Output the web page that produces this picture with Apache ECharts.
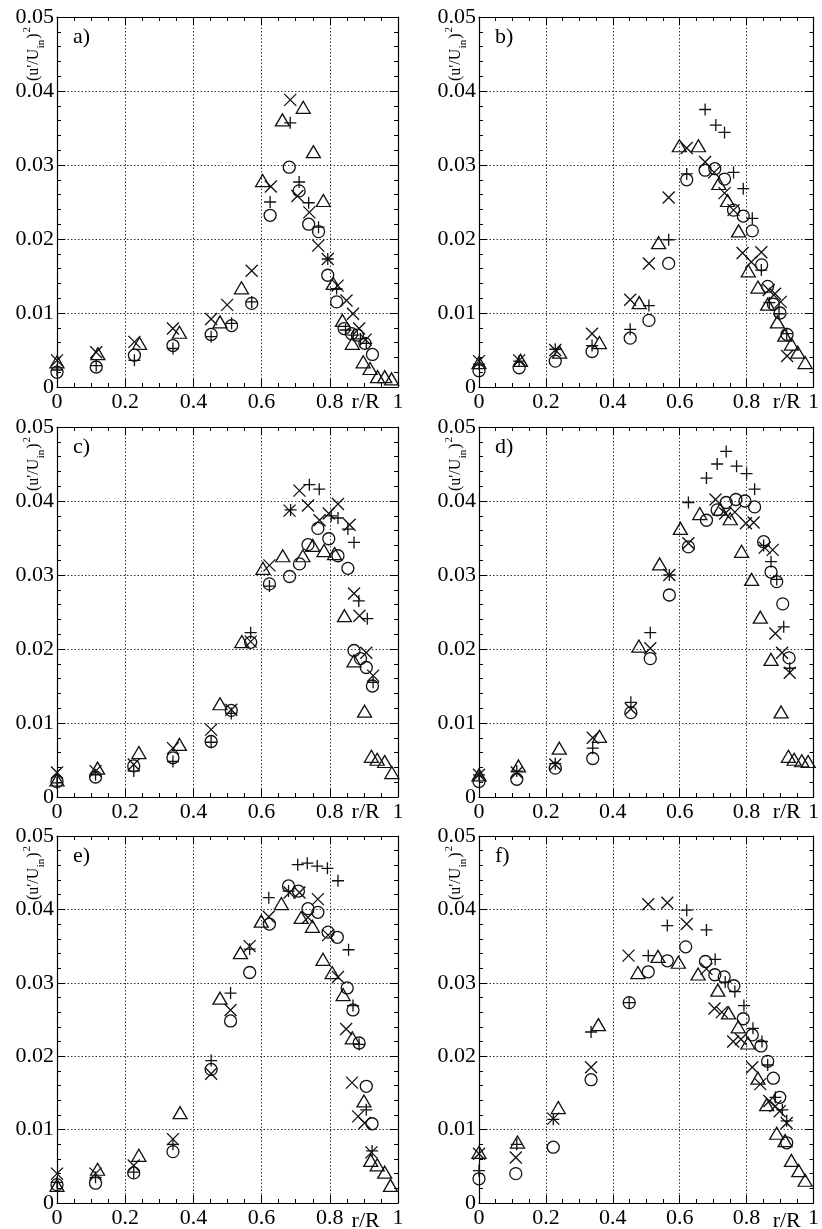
<!DOCTYPE html>
<html>
<head>
<meta charset="utf-8">
<script src="https://cdn.jsdelivr.net/npm/echarts@6/dist/echarts.min.js"></script>
<style>
  html, body { margin: 0; padding: 0; background: #fff; }
  #chart { width: 822px; height: 1229px; }
</style>
</head>
<body>
<div id="chart"></div>
<script>
// Radial profiles of (u'/U_in)^2 against r/R, four measurement sets per panel.

const xTicks = [0, 0.2, 0.4, 0.6, 0.8, 1];
const yTicks = [0, 0.01, 0.02, 0.03, 0.04, 0.05];
const panelNames = ['a)', 'b)', 'c)', 'd)', 'e)', 'f)'];

// ---- panel a ----
const aCircle = [[0,0.0020],[0.115,0.0027],[0.227,0.0043],[0.34,0.0056],[0.452,0.0071],[0.512,0.0083],[0.571,0.0113],[0.625,0.0232],[0.681,0.0297],[0.71,0.0265],[0.738,0.0220],[0.767,0.0210],[0.794,0.0151],[0.82,0.0115],[0.842,0.0079],[0.864,0.0072],[0.881,0.0070],[0.903,0.0059],[0.925,0.0044]];
const aPlus = [[0,0.0023],[0.115,0.0029],[0.227,0.0036],[0.34,0.0052],[0.452,0.0068],[0.512,0.0086],[0.571,0.0115],[0.625,0.0250],[0.684,0.0357],[0.71,0.0277],[0.738,0.0249],[0.767,0.0216],[0.794,0.0173],[0.82,0.0133],[0.846,0.0077],[0.869,0.0070],[0.89,0.0065],[0.907,0.0059]];
const aCross = [[0,0.0036],[0.115,0.0047],[0.227,0.0061],[0.34,0.0079],[0.452,0.0092],[0.499,0.0111],[0.571,0.0157],[0.627,0.0271],[0.684,0.0388],[0.705,0.0258],[0.74,0.0236],[0.766,0.0191],[0.794,0.0173],[0.823,0.0137],[0.849,0.0117],[0.868,0.0099],[0.886,0.0079],[0.905,0.0064]];
const aTri = [[0,0.0034],[0.12,0.0045],[0.242,0.0059],[0.359,0.0074],[0.478,0.0088],[0.541,0.0134],[0.603,0.0279],[0.661,0.0361],[0.722,0.0378],[0.752,0.0318],[0.781,0.0252],[0.81,0.0140],[0.837,0.0090],[0.866,0.0059],[0.898,0.0034],[0.918,0.0025],[0.94,0.0014],[0.961,0.0014],[0.981,0.0011]];

// ---- panel b ----
const bCircle = [[0,0.0022],[0.12,0.0026],[0.228,0.0035],[0.338,0.0048],[0.452,0.0066],[0.508,0.0090],[0.567,0.0167],[0.621,0.0280],[0.676,0.0293],[0.705,0.0295],[0.734,0.0281],[0.761,0.0239],[0.79,0.0231],[0.817,0.0211],[0.845,0.0165],[0.863,0.0136],[0.88,0.0112],[0.9,0.0100],[0.921,0.0071]];
const bPlus = [[0,0.0031],[0.12,0.0035],[0.228,0.0051],[0.338,0.0056],[0.452,0.0078],[0.508,0.0110],[0.567,0.0199],[0.621,0.0288],[0.676,0.0375],[0.708,0.0354],[0.734,0.0344],[0.761,0.0290],[0.79,0.0268],[0.817,0.0228],[0.844,0.0158],[0.868,0.0114],[0.897,0.0099],[0.92,0.0072]];
const bCross = [[0,0.0035],[0.12,0.0036],[0.228,0.0050],[0.338,0.0072],[0.452,0.0118],[0.508,0.0167],[0.567,0.0256],[0.621,0.0323],[0.676,0.0304],[0.703,0.0290],[0.734,0.0262],[0.761,0.0239],[0.788,0.0181],[0.814,0.0169],[0.844,0.0182],[0.866,0.0131],[0.885,0.0126],[0.902,0.0115],[0.921,0.0042]];
const bTri = [[0,0.0033],[0.124,0.0036],[0.241,0.0047],[0.36,0.0060],[0.479,0.0114],[0.537,0.0195],[0.599,0.0326],[0.656,0.0326],[0.717,0.0275],[0.743,0.0252],[0.776,0.0211],[0.805,0.0157],[0.834,0.0135],[0.863,0.0112],[0.892,0.0088],[0.914,0.0070],[0.934,0.0058],[0.953,0.0047],[0.975,0.0033]];

// ---- panel c ----
const cCircle = [[0,0.0021],[0.113,0.0027],[0.225,0.0042],[0.34,0.0053],[0.452,0.0075],[0.511,0.0117],[0.568,0.0209],[0.623,0.0288],[0.682,0.0298],[0.711,0.0315],[0.736,0.0341],[0.765,0.0363],[0.797,0.0349],[0.824,0.0326],[0.853,0.0309],[0.871,0.0198],[0.89,0.0187],[0.907,0.0175],[0.925,0.0150]];
const cPlus = [[0,0.0019],[0.113,0.0030],[0.225,0.0035],[0.34,0.0048],[0.452,0.0074],[0.511,0.0113],[0.568,0.0222],[0.623,0.0285],[0.685,0.0388],[0.74,0.0422],[0.769,0.0416],[0.804,0.0380],[0.824,0.0377],[0.853,0.0362],[0.871,0.0344],[0.885,0.0265],[0.91,0.0241],[0.927,0.0155]];
const cCross = [[0,0.0033],[0.113,0.0035],[0.225,0.0044],[0.34,0.0066],[0.452,0.0091],[0.511,0.0118],[0.568,0.0210],[0.623,0.0313],[0.682,0.0387],[0.711,0.0414],[0.736,0.0394],[0.77,0.0374],[0.797,0.0383],[0.824,0.0396],[0.858,0.0368],[0.871,0.0275],[0.887,0.0245],[0.907,0.0195],[0.927,0.0164]];
const cTri = [[0,0.0023],[0.119,0.0039],[0.24,0.0060],[0.359,0.0071],[0.478,0.0126],[0.542,0.0210],[0.604,0.0309],[0.662,0.0326],[0.721,0.0326],[0.75,0.0340],[0.783,0.0333],[0.814,0.0329],[0.843,0.0245],[0.871,0.0184],[0.902,0.0116],[0.922,0.0055],[0.939,0.0051],[0.961,0.0048],[0.982,0.0033]];

// ---- panel d ----
const dCircle = [[0,0.0021],[0.113,0.0024],[0.228,0.0039],[0.34,0.0052],[0.454,0.0114],[0.512,0.0187],[0.569,0.0273],[0.626,0.0338],[0.68,0.0374],[0.712,0.0388],[0.739,0.0398],[0.768,0.0402],[0.795,0.0400],[0.824,0.0392],[0.851,0.0345],[0.873,0.0304],[0.89,0.0291],[0.908,0.0261],[0.927,0.0188]];
const dPlus = [[0,0.0030],[0.113,0.0035],[0.228,0.0045],[0.34,0.0066],[0.454,0.0128],[0.512,0.0222],[0.569,0.0300],[0.626,0.0398],[0.68,0.0431],[0.712,0.0450],[0.739,0.0467],[0.77,0.0447],[0.8,0.0437],[0.824,0.0416],[0.851,0.0340],[0.873,0.0318],[0.89,0.0294],[0.911,0.0230],[0.929,0.0174]];
const dCross = [[0,0.0030],[0.113,0.0033],[0.228,0.0044],[0.34,0.0080],[0.454,0.0119],[0.512,0.0201],[0.569,0.0300],[0.626,0.0343],[0.707,0.0402],[0.736,0.0383],[0.765,0.0385],[0.798,0.0370],[0.821,0.0371],[0.854,0.0337],[0.878,0.0334],[0.886,0.0221],[0.906,0.0195],[0.929,0.0168]];
const dTri = [[0,0.0030],[0.118,0.0042],[0.24,0.0066],[0.36,0.0082],[0.478,0.0204],[0.54,0.0315],[0.602,0.0363],[0.66,0.0383],[0.721,0.0389],[0.751,0.0376],[0.785,0.0332],[0.815,0.0294],[0.841,0.0243],[0.873,0.0186],[0.903,0.0115],[0.925,0.0055],[0.942,0.0051],[0.965,0.0049],[0.984,0.0048]];

// ---- panel e ----
const eCircle = [[0,0.0025],[0.113,0.0027],[0.225,0.0041],[0.34,0.0070],[0.452,0.0182],[0.509,0.0248],[0.565,0.0314],[0.623,0.0380],[0.679,0.0432],[0.708,0.0425],[0.736,0.0401],[0.765,0.0396],[0.795,0.0369],[0.822,0.0362],[0.851,0.0293],[0.868,0.0263],[0.886,0.0218],[0.907,0.0159],[0.924,0.0108]];
const ePlus = [[0,0.0028],[0.113,0.0035],[0.225,0.0042],[0.34,0.0080],[0.452,0.0194],[0.509,0.0286],[0.565,0.0346],[0.621,0.0416],[0.679,0.0425],[0.706,0.0461],[0.734,0.0463],[0.763,0.0459],[0.793,0.0456],[0.824,0.0439],[0.855,0.0345],[0.868,0.0269],[0.886,0.0216],[0.907,0.0127],[0.924,0.0071]];
const eCross = [[0,0.0040],[0.113,0.0040],[0.225,0.0051],[0.34,0.0087],[0.452,0.0176],[0.509,0.0263],[0.565,0.0350],[0.621,0.0390],[0.682,0.0423],[0.711,0.0423],[0.736,0.0389],[0.765,0.0414],[0.795,0.0365],[0.824,0.0308],[0.848,0.0237],[0.865,0.0164],[0.883,0.0118],[0.902,0.0109],[0.922,0.0069]];
const eTri = [[0,0.0024],[0.119,0.0046],[0.24,0.0065],[0.361,0.0123],[0.478,0.0279],[0.538,0.0341],[0.599,0.0384],[0.658,0.0408],[0.716,0.0389],[0.749,0.0377],[0.78,0.0332],[0.807,0.0314],[0.839,0.0284],[0.866,0.0225],[0.9,0.0139],[0.92,0.0058],[0.939,0.0052],[0.961,0.0042],[0.978,0.0024]];

// ---- panel f ----
const fCircle = [[0,0.0033],[0.11,0.0040],[0.222,0.0076],[0.335,0.0168],[0.449,0.0273],[0.506,0.0315],[0.563,0.0330],[0.618,0.0349],[0.677,0.0329],[0.705,0.0311],[0.733,0.0308],[0.762,0.0296],[0.79,0.0251],[0.817,0.0229],[0.843,0.0214],[0.863,0.0193],[0.88,0.0170],[0.899,0.0144],[0.92,0.0082]];
const fPlus = [[0,0.0044],[0.113,0.0080],[0.222,0.0114],[0.335,0.0233],[0.449,0.0273],[0.506,0.0337],[0.563,0.0378],[0.621,0.0399],[0.68,0.0372],[0.706,0.0332],[0.736,0.0301],[0.765,0.0288],[0.792,0.0269],[0.819,0.0238],[0.846,0.0220],[0.863,0.0188],[0.886,0.0144],[0.907,0.0127],[0.92,0.0112]];
const fCross = [[0,0.0067],[0.11,0.0062],[0.222,0.0115],[0.335,0.0185],[0.447,0.0337],[0.506,0.0407],[0.563,0.0409],[0.621,0.0380],[0.68,0.0319],[0.704,0.0265],[0.726,0.0260],[0.76,0.0220],[0.783,0.0223],[0.817,0.0185],[0.841,0.0162],[0.868,0.0139],[0.886,0.0132],[0.899,0.0125],[0.92,0.0109]];
const fTri = [[0,0.0069],[0.115,0.0083],[0.237,0.0130],[0.357,0.0243],[0.475,0.0314],[0.535,0.0336],[0.596,0.0328],[0.655,0.0312],[0.714,0.0290],[0.746,0.0259],[0.775,0.0240],[0.804,0.0218],[0.834,0.0170],[0.86,0.0134],[0.89,0.0095],[0.915,0.0085],[0.934,0.0058],[0.956,0.0044],[0.975,0.0031]];

const panelData = [
  [aCircle, aPlus, aCross, aTri],
  [bCircle, bPlus, bCross, bTri],
  [cCircle, cPlus, cCross, cTri],
  [dCircle, dPlus, dCross, dTri],
  [eCircle, ePlus, eCross, eTri],
  [fCircle, fPlus, fCross, fTri]
];

// ---- layout ----
const FONT = 'Liberation Serif';
const INK = '#111';
const COLS = [{ left: 57, width: 341 }, { left: 479, width: 340 }];
const ROWS = [17, 427, 836];
const PH = 370;

const symbols = [
  { symbol: 'circle', size: 12 },
  { symbol: 'path://M0,6H12M6,0V12', size: 12 },
  { symbol: 'path://M0,0L12,12M12,0L0,12', size: 12 },
  { symbol: 'triangle', size: [14, 12] }
];

const fmtX = v => String(Math.round(v * 10) / 10);
const fmtY = v => (Math.abs(v) < 1e-9 ? '0' : (Math.round(v * 100) / 100).toFixed(2));

// text width helper for composing the rotated axis title
const measureCtx = document.createElement('canvas').getContext('2d');
function textWidth(str, size) {
  measureCtx.font = size + 'px "' + FONT + '"';
  return measureCtx.measureText(str).width;
}

// y-axis title built from pieces inside a rotated group (reads bottom to top)
function yTitle(cx, baseY) {
  const MAIN = 16, SMALL = 11;
  const parts = [
    { t: "(u'/U", size: MAIN, dy: 0, gap: 0.5 },
    { t: 'in', size: SMALL, dy: 7, gap: 1 },
    { t: ')', size: MAIN, dy: 0, gap: 1 },
    { t: '2', size: SMALL, dy: -7, gap: 0 }
  ];
  let pos = 0;
  const children = parts.map(p => {
    const el = {
      type: 'text', x: pos, y: p.dy, silent: true,
      style: { text: p.t, fill: '#000', font: p.size + 'px "' + FONT + '"', align: 'left', verticalAlign: 'middle' }
    };
    pos += textWidth(p.t, p.size) + p.gap;
    return el;
  });
  return { type: 'group', x: cx, y: baseY, rotation: Math.PI / 2, silent: true, children: children };
}

const grids = [], xAxes = [], yAxes = [], series = [], graphics = [];

panelData.forEach((sets, i) => {
  const col = COLS[i % 2];
  const top = ROWS[Math.floor(i / 2)];
  grids.push({ left: col.left, top: top, width: col.width, height: PH, show: false });

  const line = { show: true, onZero: false, lineStyle: { color: '#000', width: 1.2 } };
  const tick = { show: true, inside: true, length: 8, lineStyle: { color: '#000', width: 1 } };
  const labelStyle = { color: '#000', fontFamily: FONT, fontSize: 22 };

  xAxes.push({
    gridIndex: i, type: 'value', position: 'bottom', min: xTicks[0], max: xTicks[xTicks.length - 1], interval: 0.2,
    axisLine: line, axisTick: tick,
    minorTick: { show: true, splitNumber: 4, length: 4, lineStyle: { color: '#000', width: 1 } },
    splitLine: { show: true, lineStyle: { color: '#333', width: 1, type: [1.5, 2] } },
    axisLabel: Object.assign({ margin: 4, formatter: fmtX, showMinLabel: true, showMaxLabel: true }, labelStyle)
  });
  xAxes.push({
    gridIndex: i, type: 'value', position: 'top', min: xTicks[0], max: xTicks[xTicks.length - 1], interval: 0.2,
    axisLine: line, axisTick: tick,
    minorTick: { show: true, splitNumber: 4, length: 4, lineStyle: { color: '#000', width: 1 } },
    splitLine: { show: false }, axisLabel: { show: false }
  });
  yAxes.push({
    gridIndex: i, type: 'value', position: 'left', min: yTicks[0], max: yTicks[yTicks.length - 1], interval: 0.01,
    axisLine: line, axisTick: tick,
    minorTick: { show: true, splitNumber: 5, length: 4, lineStyle: { color: '#000', width: 1 } },
    splitLine: { show: true, lineStyle: { color: '#333', width: 1, type: [1.5, 2] } },
    axisLabel: Object.assign({ margin: 3, formatter: fmtY, showMinLabel: true, showMaxLabel: true }, labelStyle)
  });
  yAxes.push({
    gridIndex: i, type: 'value', position: 'right', min: yTicks[0], max: yTicks[yTicks.length - 1], interval: 0.01,
    axisLine: line, axisTick: tick,
    minorTick: { show: true, splitNumber: 5, length: 4, lineStyle: { color: '#000', width: 1 } },
    splitLine: { show: false }, axisLabel: { show: false }
  });

  sets.forEach((data, k) => {
    series.push({
      type: 'scatter', xAxisIndex: 2 * i, yAxisIndex: 2 * i, data: data,
      symbol: symbols[k].symbol, symbolSize: symbols[k].size, clip: false, silent: true,
      itemStyle: { color: 'rgba(0,0,0,0)', borderColor: INK, borderWidth: 1.3, opacity: 1 }
    });
  });

  // panel letter
  graphics.push({
    type: 'text', x: col.left + 16, y: top + 9, silent: true,
    style: { text: panelNames[i], fill: '#000', font: '22px "' + FONT + '"', align: 'left', verticalAlign: 'top' }
  });
  // x-axis title beside the last tick label
  graphics.push({
    type: 'text', x: col.left + 0.905 * col.width, y: top + PH + 4, silent: true,
    style: { text: 'r/R', fill: '#000', font: '22px "' + FONT + '"', align: 'center', verticalAlign: 'top' }
  });
  // y-axis title, between the two top tick labels
  graphics.push(yTitle(col.left - 23, top + 64));
});

const chart = echarts.init(document.getElementById('chart'), null, { renderer: 'canvas' });
chart.setOption({
  backgroundColor: '#fff',
  animation: false,
  grid: grids,
  xAxis: xAxes,
  yAxis: yAxes,
  series: series,
  graphic: graphics
});
</script>
</body>
</html>
